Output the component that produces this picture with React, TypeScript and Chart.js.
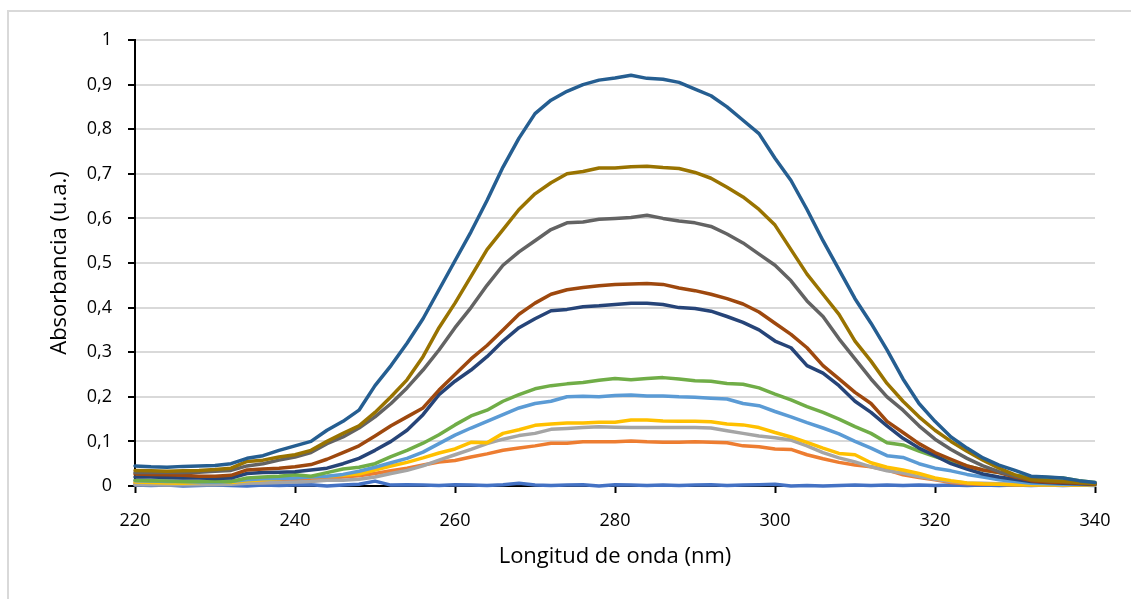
import React, { useEffect, useRef } from 'react';
import { Chart, registerables } from 'chart.js';

Chart.register(...registerables);

// Wavelength grid (nm)
const wavelengths = [
  220, 222, 224, 226, 228, 230, 232, 234, 236, 238,
  240, 242, 244, 246, 248, 250, 252, 254, 256, 258,
  260, 262, 264, 266, 268, 270, 272, 274, 276, 278,
  280, 282, 284, 286, 288, 290, 292, 294, 296, 298,
  300, 302, 304, 306, 308, 310, 312, 314, 316, 318,
  320, 322, 324, 326, 328, 330, 332, 334, 336, 338,
  340,
];

const xTickValues = [220, 240, 260, 280, 300, 320, 340];
const xTickLabels = ['220', '240', '260', '280', '300', '320', '340'];
const yTickLabels = ['0', '0,1', '0,2', '0,3', '0,4', '0,5', '0,6', '0,7', '0,8', '0,9', '1'];

// Absorbance spectra, one array per sample
const serie1 = [
  0.002, 0.001, 0.002, 0.000, 0.001, 0.002, 0.001, 0.000, 0.002, 0.001,
  0.002, 0.003, 0.000, 0.002, 0.004, 0.011, 0.002, 0.003, 0.002, 0.001,
  0.003, 0.002, 0.001, 0.003, 0.006, 0.002, 0.001, 0.002, 0.003, 0.000,
  0.003, 0.002, 0.001, 0.002, 0.001, 0.002, 0.003, 0.001, 0.002, 0.003,
  0.004, 0.000, 0.001, 0.000, 0.001, 0.002, 0.001, 0.002, 0.001, 0.002,
  0.001, 0.002, 0.001, 0.002, 0.001, 0.002, 0.001, 0.002, 0.001, 0.002,
  0.001,
];
const serie2 = [
  0.006, 0.006, 0.005, 0.005, 0.005, 0.006, 0.006, 0.010, 0.012, 0.013,
  0.014, 0.015, 0.017, 0.020, 0.023, 0.028, 0.034, 0.040, 0.047, 0.054,
  0.057, 0.065, 0.072, 0.080, 0.085, 0.090, 0.096, 0.096, 0.099, 0.099,
  0.099, 0.101, 0.099, 0.098, 0.098, 0.099, 0.098, 0.097, 0.090, 0.088,
  0.083, 0.082, 0.070, 0.061, 0.053, 0.047, 0.043, 0.036, 0.025, 0.019,
  0.014, 0.008, 0.005, 0.004, 0.004, 0.003, 0.003, 0.003, 0.003, 0.003,
  0.003,
];
const serie3 = [
  0.003, 0.003, 0.002, 0.003, 0.003, 0.003, 0.004, 0.006, 0.007, 0.008,
  0.009, 0.010, 0.013, 0.013, 0.015, 0.020, 0.028, 0.035, 0.045, 0.058,
  0.070, 0.082, 0.095, 0.105, 0.113, 0.118, 0.127, 0.129, 0.131, 0.133,
  0.132, 0.131, 0.131, 0.131, 0.131, 0.131, 0.130, 0.124, 0.118, 0.112,
  0.108, 0.103, 0.090, 0.075, 0.063, 0.054, 0.043, 0.034, 0.029, 0.021,
  0.015, 0.010, 0.007, 0.006, 0.005, 0.004, 0.004, 0.003, 0.003, 0.003,
  0.003,
];
const serie4 = [
  0.009, 0.008, 0.007, 0.006, 0.008, 0.012, 0.008, 0.012, 0.014, 0.016,
  0.020, 0.021, 0.022, 0.024, 0.027, 0.036, 0.045, 0.053, 0.063, 0.074,
  0.083, 0.098, 0.097, 0.118, 0.126, 0.136, 0.139, 0.141, 0.141, 0.143,
  0.143, 0.148, 0.148, 0.146, 0.145, 0.145, 0.144, 0.139, 0.137, 0.131,
  0.120, 0.110, 0.098, 0.085, 0.073, 0.070, 0.052, 0.042, 0.036, 0.028,
  0.018, 0.012, 0.007, 0.005, 0.004, 0.003, 0.002, 0.002, 0.002, 0.002,
  0.002,
];
const serie5 = [
  0.012, 0.011, 0.010, 0.010, 0.009, 0.009, 0.010, 0.014, 0.016, 0.017,
  0.018, 0.020, 0.022, 0.026, 0.033, 0.042, 0.052, 0.062, 0.076, 0.095,
  0.114, 0.130, 0.145, 0.160, 0.175, 0.185, 0.190, 0.200, 0.201, 0.200,
  0.203, 0.204, 0.202, 0.202, 0.200, 0.199, 0.197, 0.195, 0.185, 0.180,
  0.167, 0.155, 0.142, 0.130, 0.117, 0.100, 0.085, 0.068, 0.064, 0.050,
  0.040, 0.034, 0.026, 0.020, 0.014, 0.010, 0.006, 0.005, 0.004, 0.004,
  0.003,
];
const serie6 = [
  0.013, 0.012, 0.011, 0.010, 0.010, 0.010, 0.010, 0.018, 0.020, 0.022,
  0.025, 0.022, 0.030, 0.038, 0.042, 0.050, 0.066, 0.080, 0.096, 0.115,
  0.137, 0.157, 0.170, 0.190, 0.205, 0.218, 0.225, 0.229, 0.232, 0.237,
  0.241, 0.238, 0.241, 0.243, 0.240, 0.236, 0.235, 0.230, 0.228, 0.220,
  0.206, 0.193, 0.178, 0.165, 0.150, 0.133, 0.118, 0.097, 0.092, 0.078,
  0.066, 0.055, 0.045, 0.036, 0.030, 0.024, 0.020, 0.019, 0.018, 0.012,
  0.008,
];
const serie7 = [
  0.020, 0.020, 0.019, 0.018, 0.018, 0.017, 0.018, 0.028, 0.030, 0.031,
  0.032, 0.036, 0.040, 0.050, 0.062, 0.080, 0.100, 0.125, 0.160, 0.205,
  0.235, 0.260, 0.290, 0.325, 0.355, 0.375, 0.393, 0.396, 0.402, 0.404,
  0.407, 0.410, 0.410, 0.407, 0.400, 0.398, 0.392, 0.380, 0.367, 0.350,
  0.325, 0.310, 0.270, 0.253, 0.225, 0.190, 0.165, 0.135, 0.107, 0.085,
  0.068, 0.050, 0.038, 0.027, 0.020, 0.015, 0.010, 0.008, 0.006, 0.005,
  0.004,
];
const serie8 = [
  0.027, 0.026, 0.025, 0.024, 0.022, 0.022, 0.024, 0.036, 0.038, 0.040,
  0.043, 0.048, 0.060, 0.075, 0.090, 0.112, 0.135, 0.155, 0.175, 0.215,
  0.250, 0.285, 0.315, 0.350, 0.385, 0.410, 0.430, 0.440, 0.445, 0.449,
  0.452, 0.453, 0.454, 0.452, 0.444, 0.438, 0.430, 0.420, 0.408, 0.390,
  0.365, 0.340, 0.310, 0.270, 0.240, 0.210, 0.185, 0.145, 0.120, 0.095,
  0.075, 0.060, 0.045, 0.036, 0.030, 0.020, 0.012, 0.009, 0.008, 0.006,
  0.004,
];
const serie9 = [
  0.030, 0.030, 0.030, 0.030, 0.031, 0.033, 0.035, 0.045, 0.050, 0.058,
  0.065, 0.075, 0.095, 0.110, 0.130, 0.155, 0.185, 0.220, 0.260, 0.305,
  0.355, 0.400, 0.450, 0.495, 0.525, 0.550, 0.575, 0.590, 0.592, 0.598,
  0.600, 0.602, 0.607, 0.600, 0.594, 0.590, 0.582, 0.565, 0.545, 0.520,
  0.495, 0.460, 0.415, 0.380, 0.330, 0.285, 0.240, 0.200, 0.170, 0.135,
  0.105, 0.082, 0.062, 0.045, 0.032, 0.022, 0.015, 0.012, 0.010, 0.008,
  0.006,
];
const serie10 = [
  0.035, 0.034, 0.033, 0.034, 0.035, 0.037, 0.040, 0.055, 0.058, 0.065,
  0.070, 0.080, 0.100, 0.118, 0.135, 0.165, 0.200, 0.238, 0.290, 0.355,
  0.410, 0.470, 0.530, 0.575, 0.620, 0.655, 0.680, 0.700, 0.705, 0.713,
  0.713, 0.716, 0.717, 0.714, 0.712, 0.703, 0.690, 0.670, 0.648, 0.620,
  0.585, 0.530, 0.475, 0.430, 0.385, 0.325, 0.280, 0.230, 0.190, 0.155,
  0.125, 0.100, 0.078, 0.058, 0.040, 0.025, 0.014, 0.012, 0.010, 0.008,
  0.005,
];
const serie11 = [
  0.045, 0.043, 0.042, 0.044, 0.045, 0.046, 0.050, 0.062, 0.068, 0.080,
  0.090, 0.100, 0.125, 0.145, 0.170, 0.225, 0.270, 0.320, 0.375, 0.440,
  0.505, 0.570, 0.640, 0.715, 0.780, 0.835, 0.865, 0.885, 0.900, 0.910,
  0.915, 0.921, 0.914, 0.912, 0.905, 0.890, 0.875, 0.850, 0.820, 0.790,
  0.735, 0.685, 0.620, 0.550, 0.485, 0.420, 0.365, 0.305, 0.240, 0.185,
  0.145, 0.110, 0.085, 0.063, 0.047, 0.035, 0.022, 0.020, 0.018, 0.012,
  0.008,
];

const seriesValues = [serie1, serie2, serie3, serie4, serie5, serie6, serie7, serie8, serie9, serie10, serie11];
const seriesColors = [
  '#4472C4', '#ED7D31', '#A5A5A5', '#FFC000', '#5B9BD5', '#70AD47',
  '#264478', '#9E480E', '#636363', '#997300', '#255E91',
];

const FONT = '"Open Sans", "Noto Sans", sans-serif';

export default function App() {
  const canvasRef = useRef<HTMLCanvasElement | null>(null);

  useEffect(() => {
    const canvas = canvasRef.current;
    if (!canvas) return;
    const n = seriesValues.length;
    const chart = new Chart(canvas, {
      type: 'line',
      data: {
        datasets: seriesValues.map((vals, i) => ({
          label: 'Serie ' + (i + 1),
          data: wavelengths.map((x, j) => ({ x, y: vals[j] })),
          borderColor: seriesColors[i],
          backgroundColor: seriesColors[i],
          borderWidth: 3.5,
          pointRadius: 0,
          fill: false,
          tension: 0,
          clip: false,
          borderJoinStyle: 'round',
          borderCapStyle: 'round',
          // later samples are painted over earlier ones
          order: n - i,
        })),
      },
      options: {
        responsive: false,
        animation: false,
        events: [],
        layout: { padding: { top: 40, right: 36, left: 0, bottom: 0 } },
        plugins: {
          legend: { display: false },
          tooltip: { enabled: false },
        },
        scales: {
          x: {
            type: 'linear',
            min: 220,
            max: 340,
            afterFit: (scale: any) => {
              scale.height = 113;
            },
            ticks: {
              stepSize: 20,
              padding: 17,
              color: '#000',
              maxRotation: 0,
              autoSkip: false,
              font: { family: FONT, size: 18 },
              callback: (value: any) => {
                const k = xTickValues.indexOf(Number(value));
                return k >= 0 ? xTickLabels[k] : '';
              },
            },
            grid: {
              drawOnChartArea: false,
              drawTicks: true,
              tickLength: 7,
              tickColor: '#000',
              tickWidth: 2,
            },
            border: { display: true, color: '#000', width: 2 },
            title: {
              display: true,
              text: 'Longitud de onda (nm)',
              color: '#000',
              font: { family: FONT, size: 22 },
              padding: { top: 0, bottom: 29 },
            },
          },
          y: {
            type: 'linear',
            min: 0,
            max: 1,
            afterFit: (scale: any) => {
              scale.width = 135;
            },
            ticks: {
              stepSize: 0.1,
              padding: 16,
              color: '#000',
              font: { family: FONT, size: 18 },
              callback: (_value: any, index: number) => yTickLabels[index],
            },
            grid: {
              color: '#d9d9d9',
              lineWidth: 2,
              tickColor: '#000',
              tickWidth: 2,
              tickLength: 7,
            },
            border: { display: true, color: '#000', width: 2 },
            title: {
              display: true,
              text: 'Absorbancia (u.a.)',
              color: '#000',
              font: { family: FONT, size: 22 },
              padding: { top: 47, bottom: 0 },
            },
          },
        },
      },
    });
    return () => chart.destroy();
  }, []);

  return (
    <div style={{ position: 'fixed', left: 0, top: 0, width: 1131, height: 599, background: '#fff' }}>
      <div
        style={{
          position: 'absolute',
          left: 7,
          top: 10,
          right: 0,
          bottom: 0,
          borderLeft: '2px solid #d9d9d9',
          borderTop: '2px solid #d9d9d9',
        }}
      />
      <canvas ref={canvasRef} width={1131} height={599} style={{ position: 'absolute', left: 0, top: 0 }} />
    </div>
  );
}
